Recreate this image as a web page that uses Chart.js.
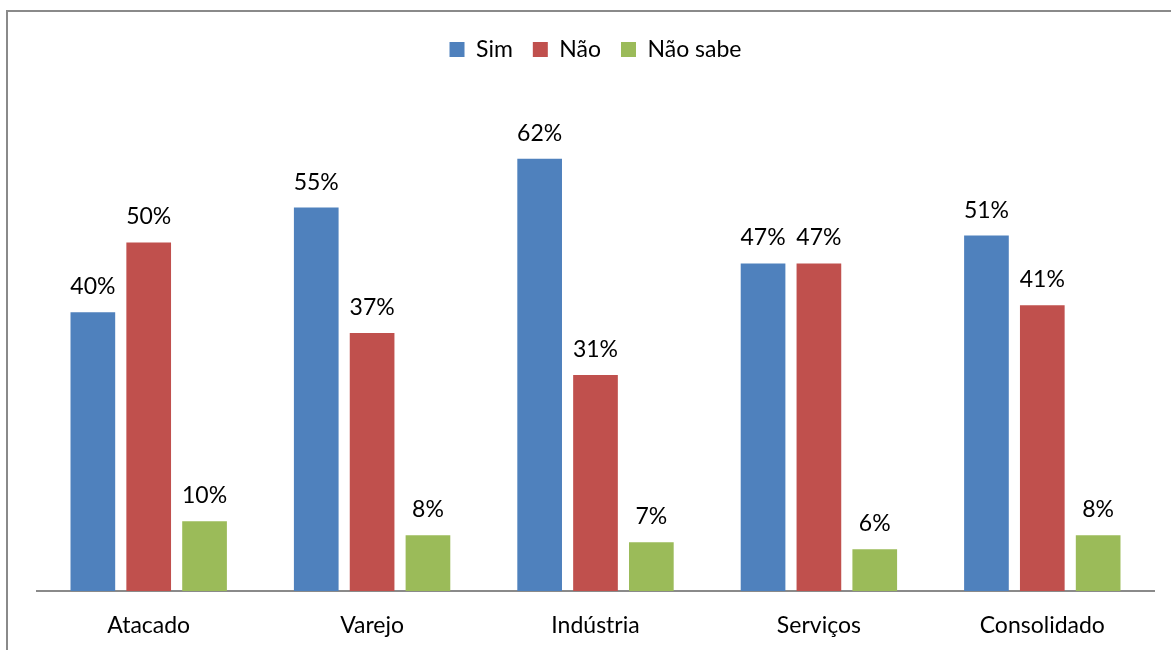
<!DOCTYPE html>
<html>
<head>
<meta charset="utf-8">
<script src="https://cdn.jsdelivr.net/npm/chart.js@4"></script>
<style>
    html, body { margin: 0; padding: 0; background: #fff; overflow: hidden; }
    #frame {
        position: absolute; left: 6px; top: 10px;
        width: 1200px; height: 700px;
        border: 2px solid #8a8a8a;
    }
    #wrap { position: absolute; left: 0; top: 0; width: 1171px; height: 650px; }
</style>
</head>
<body>
<div id="frame"></div>
<div id="wrap"><canvas id="barChart" width="1171" height="650"></canvas></div>
<script>
// Chart data
const categories = ['Atacado', 'Varejo', 'Indústria', 'Serviços', 'Consolidado'];
const simValues = [40, 55, 62, 47, 51];
const naoValues = [50, 37, 31, 47, 41];
const naoSabeValues = [10, 8, 7, 6, 8];

const FONT = 'Lato, "Open Sans", sans-serif';

// Draws "NN%" above each bar
const valueLabels = {
    id: 'valueLabels',
    afterDatasetsDraw(chart) {
        const ctx = chart.ctx;
        ctx.save();
        ctx.font = '23px ' + FONT;
        ctx.fillStyle = '#000';
        ctx.textAlign = 'center';
        ctx.textBaseline = 'alphabetic';
        chart.data.datasets.forEach((ds, i) => {
            const meta = chart.getDatasetMeta(i);
            meta.data.forEach((bar, j) => {
                ctx.fillText(ds.data[j] + '%', bar.x, bar.y - 18);
            });
        });
        ctx.restore();
    }
};

new Chart(document.getElementById('barChart'), {
    type: 'bar',
    data: {
        labels: categories,
        datasets: [
            { label: 'Sim', data: simValues, backgroundColor: '#4F81BD' },
            { label: 'Não', data: naoValues, backgroundColor: '#C0504D' },
            { label: 'Não sabe', data: naoSabeValues, backgroundColor: '#9BBB59' }
        ]
    },
    options: {
        responsive: false,
        animation: false,
        layout: { padding: { left: 37, right: 17, top: 18, bottom: 0 } },
        datasets: {
            bar: { categoryPercentage: 0.75, barPercentage: 0.8 }
        },
        plugins: {
            legend: {
                position: 'top',
                labels: {
                    boxWidth: 15,
                    boxHeight: 15,
                    padding: 20,
                    color: '#000',
                    font: { family: FONT, size: 23 }
                }
            },
            tooltip: { enabled: false }
        },
        scales: {
            x: {
                grid: { display: false, drawTicks: false },
                border: { display: true, color: '#8a8a8a', width: 2 },
                ticks: { color: '#000', padding: 21, font: { family: FONT, size: 23 } },
                afterFit: (scale) => { scale.height = 59; }
            },
            y: {
                display: false,
                min: 0,
                max: 74.6
            }
        }
    },
    plugins: [valueLabels]
});
</script>
</body>
</html>
